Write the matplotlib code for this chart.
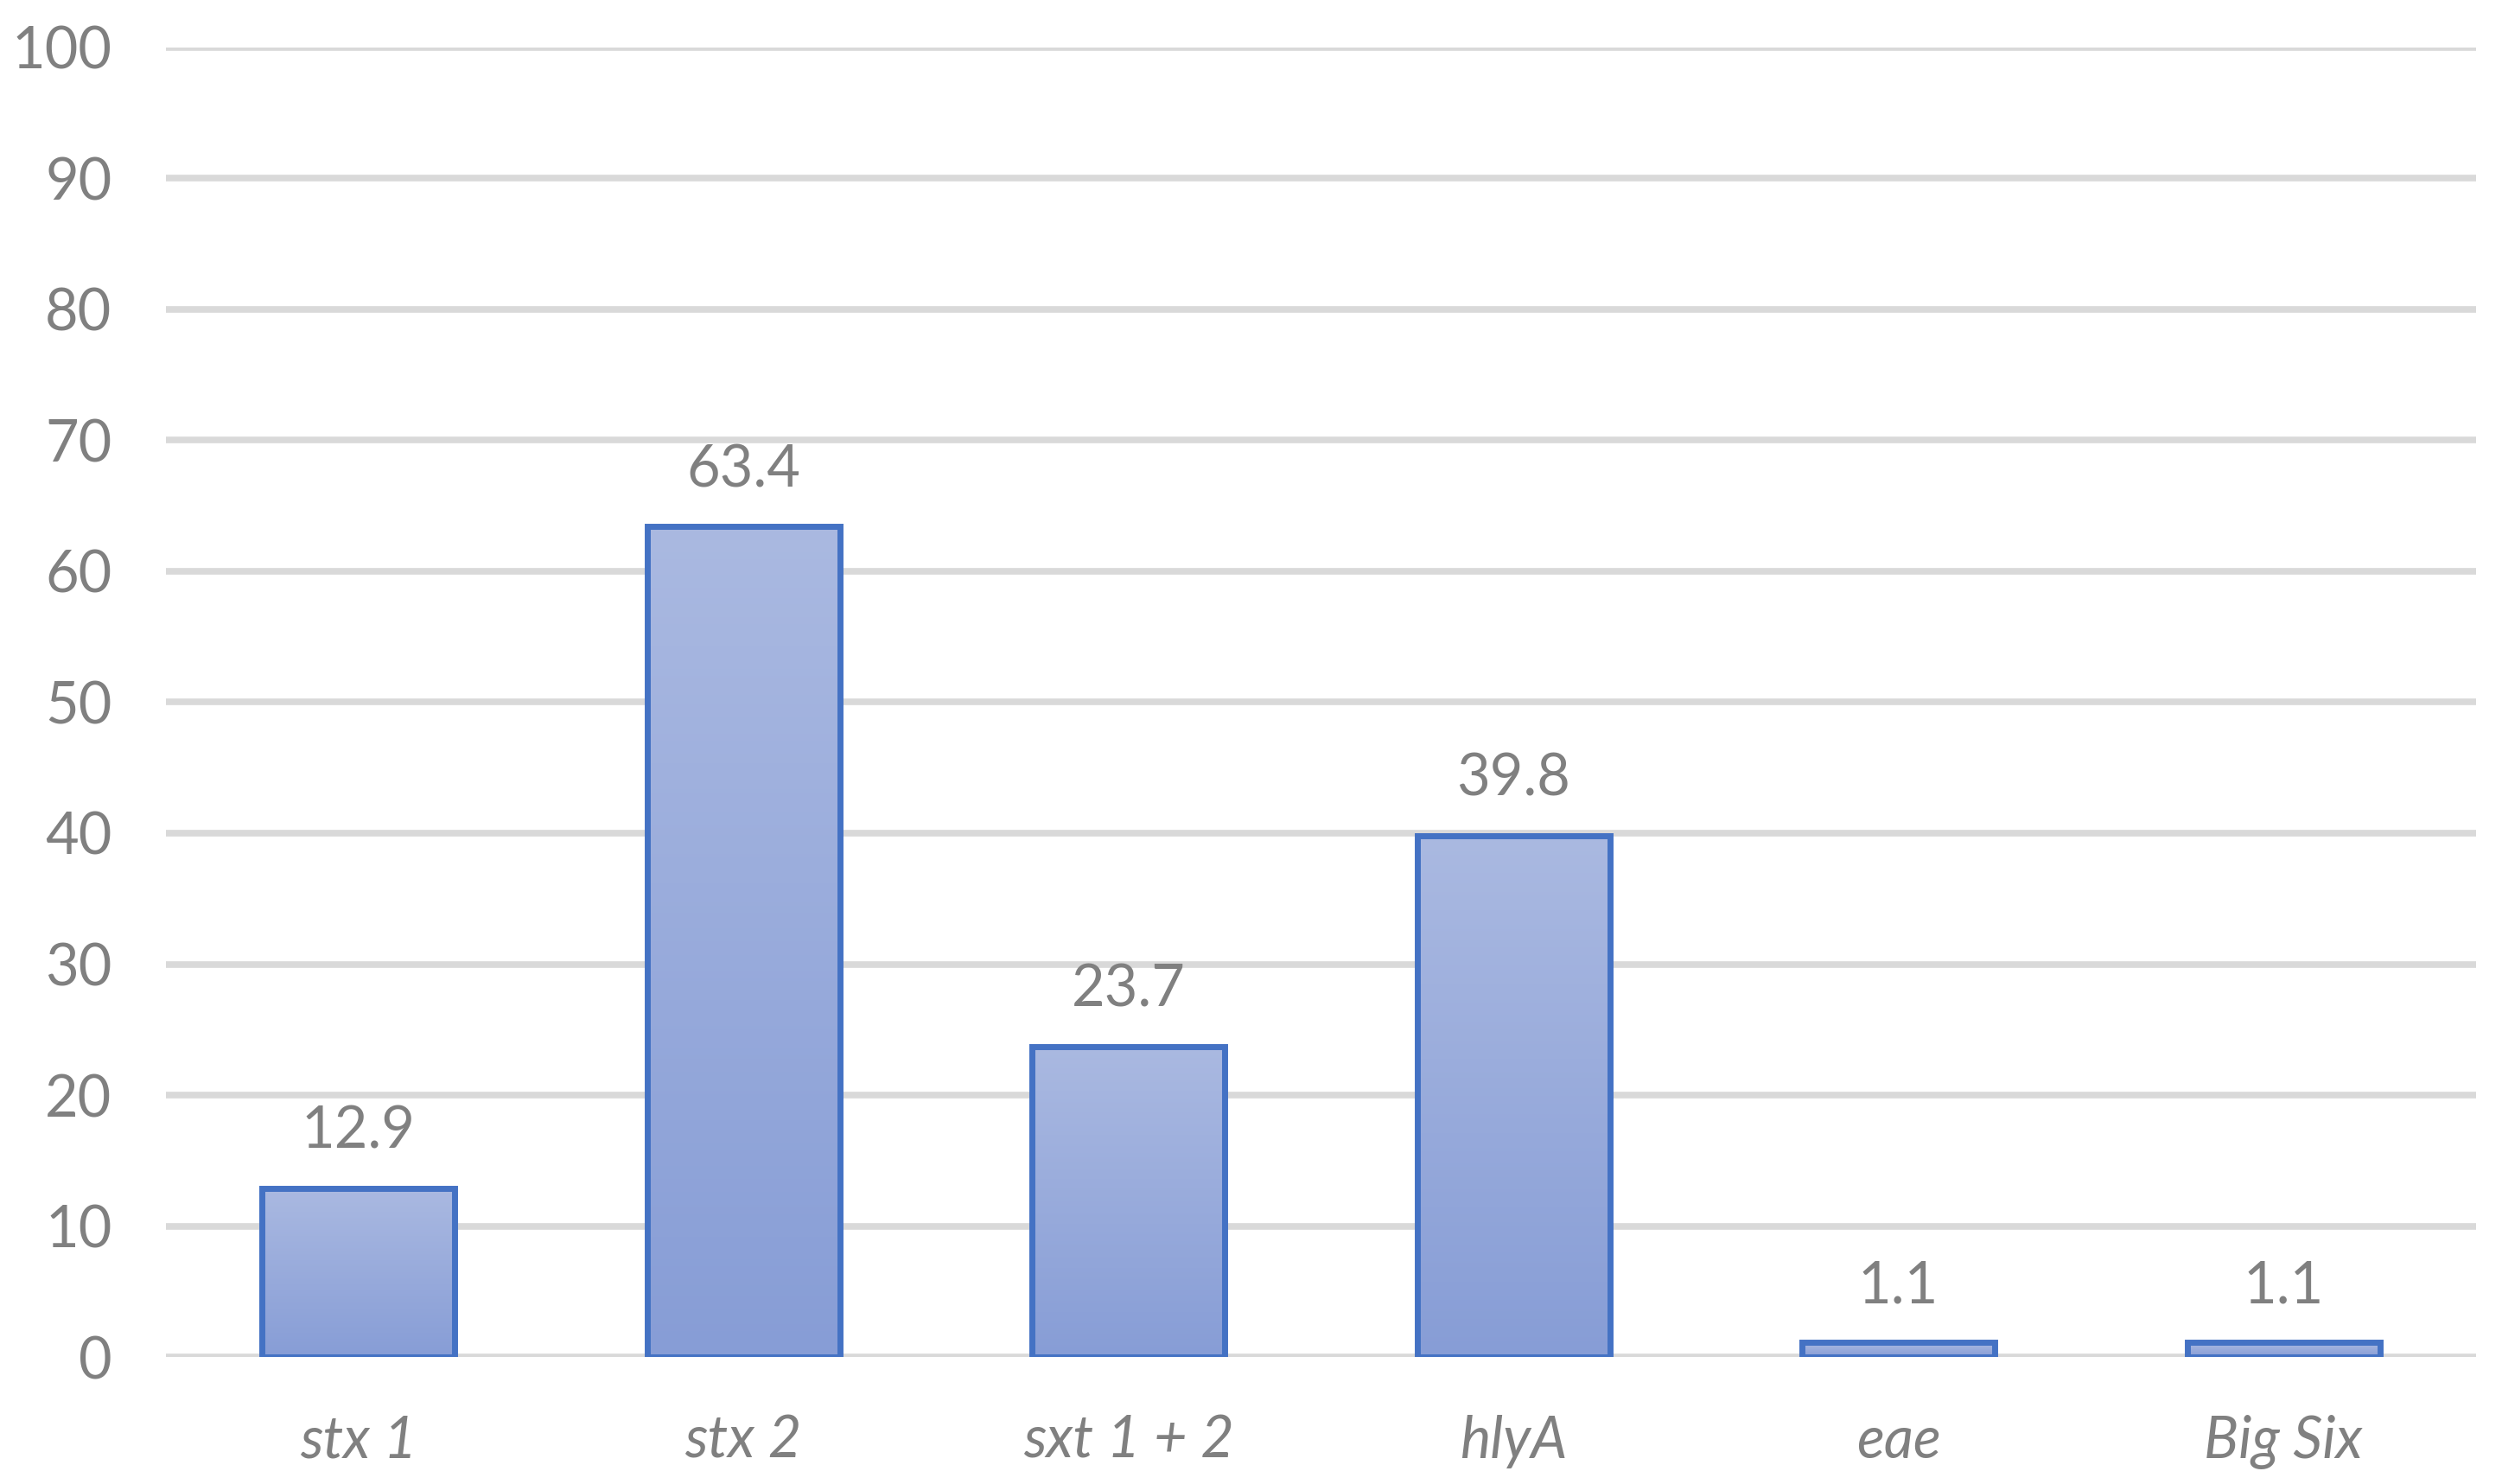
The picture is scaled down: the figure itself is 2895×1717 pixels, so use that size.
#!/usr/bin/env python3
"""Bar chart: prevalence of virulence genes (%), Excel-style with gradient bars."""
import matplotlib

matplotlib.use("Agg")
import matplotlib.pyplot as plt
import numpy as np
from matplotlib.colors import LinearSegmentedColormap

plt.rcParams["font.family"] = ["Lato", "DejaVu Sans"]

genes = ["stx 1", "stx 2", "sxt 1 + 2", "hlyA", "eae", "Big Six"]
values = [12.9, 63.4, 23.7, 39.8, 1.1, 1.1]
yticks = [0, 10, 20, 30, 40, 50, 60, 70, 80, 90, 100]

GRAY = "#808080"
GRID = "#d9d9d9"
EDGE = "#4472c4"
grad = LinearSegmentedColormap.from_list("g", ["#aab9e1", "#879dd6"])

fig = plt.figure(figsize=(28.95, 17.17), dpi=100)
ax = fig.add_axes([0.0663, 0.0856, 0.9233, 0.8824])

x = np.arange(len(genes))
bars = ax.bar(x, values, width=0.50, color="none", edgecolor=EDGE, linewidth=5, zorder=3)

# vertical gradient inside each bar
g = np.linspace(0, 1, 256).reshape(-1, 1)
for b in bars:
    x0, y0 = b.get_x(), b.get_y()
    w, h = b.get_width(), b.get_height()
    im = ax.imshow(g, cmap=grad, aspect="auto", extent=[x0, x0 + w, y0, y0 + h],
                   origin="upper", zorder=2)
    im.set_clip_path(b)

for xi, v in zip(x, values):
    ax.annotate(f"{v}", (xi, v), xytext=(0, 47), textcoords="offset points",
                ha="center", va="center", fontsize=48, color=GRAY)

ax.set_xlim(-0.5, len(genes) - 0.5)
ax.set_ylim(0, 100)
ax.set_yticks(yticks)
ax.set_xticks(x)
ax.set_xticklabels(genes, fontstyle="italic")
ax.tick_params(axis="both", length=0, labelsize=48, labelcolor=GRAY)
ax.tick_params(axis="x", pad=48)
ax.tick_params(axis="y", pad=45)
ax.yaxis.grid(True, color=GRID, linewidth=5.5, zorder=0)
ax.set_axisbelow(True)
for s in ax.spines.values():
    s.set_visible(False)

fig.savefig("out.png", dpi=100)
